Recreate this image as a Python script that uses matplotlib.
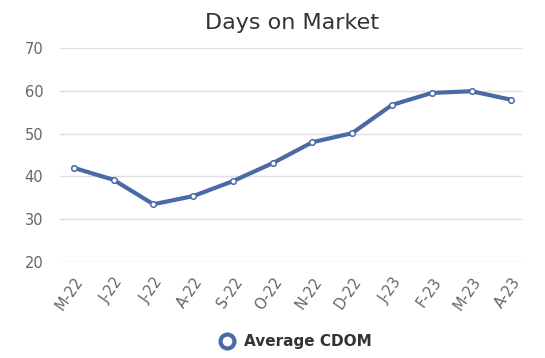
import matplotlib
matplotlib.use("Agg")
import matplotlib.pyplot as plt
import numpy as np

months = ["M-22", "J-22", "J-22", "A-22", "S-22", "O-22", "N-22", "D-22",
          "J-23", "F-23", "M-23", "A-23"]
avg_cdom = [42.0, 39.2, 33.5, 35.4, 38.9, 43.1, 48.0, 50.1, 56.7, 59.5, 59.9, 57.9]

blue = "#4a6aa5"

fig = plt.figure(figsize=(5.45, 3.58), dpi=100)
ax = fig.add_axes([0.11, 0.268, 0.85, 0.598])

x = np.arange(len(months))
ax.plot(x, avg_cdom, color=blue, lw=3, marker="o", ms=4,
        markerfacecolor="white", markeredgecolor=blue, markeredgewidth=1.1,
        label="Average CDOM", zorder=3)

ax.set_ylim(20, 70)
ax.set_yticks([20, 30, 40, 50, 60, 70])
ax.set_xlim(-0.35, 11.3)
ax.set_xticks(x)
ax.set_xticklabels(months, rotation=55, ha="right", rotation_mode="anchor")
ax.grid(axis="y", color="#e0e0e0", lw=1)
ax.set_axisbelow(True)
for s in ax.spines.values():
    s.set_visible(False)
ax.tick_params(length=0, labelsize=10.5, colors="#666666")
ax.tick_params(axis="y", pad=12)
ax.tick_params(axis="x", pad=9)

fig.text(0.535, 0.935, "Days on Market", ha="center", va="center",
         fontsize=16, color="#333333")

leg = fig.legend(handles=[plt.Line2D([], [], color=blue, lw=0, marker="o", ms=10,
                                     markerfacecolor="white", markeredgewidth=3)],
                 labels=["Average CDOM"], loc="center", bbox_to_anchor=(0.535, 0.045),
                 frameon=False, handletextpad=0.1, prop={"weight": "bold", "size": 11})
for t in leg.get_texts():
    t.set_color("#333333")

fig.savefig("out.png", dpi=100)
